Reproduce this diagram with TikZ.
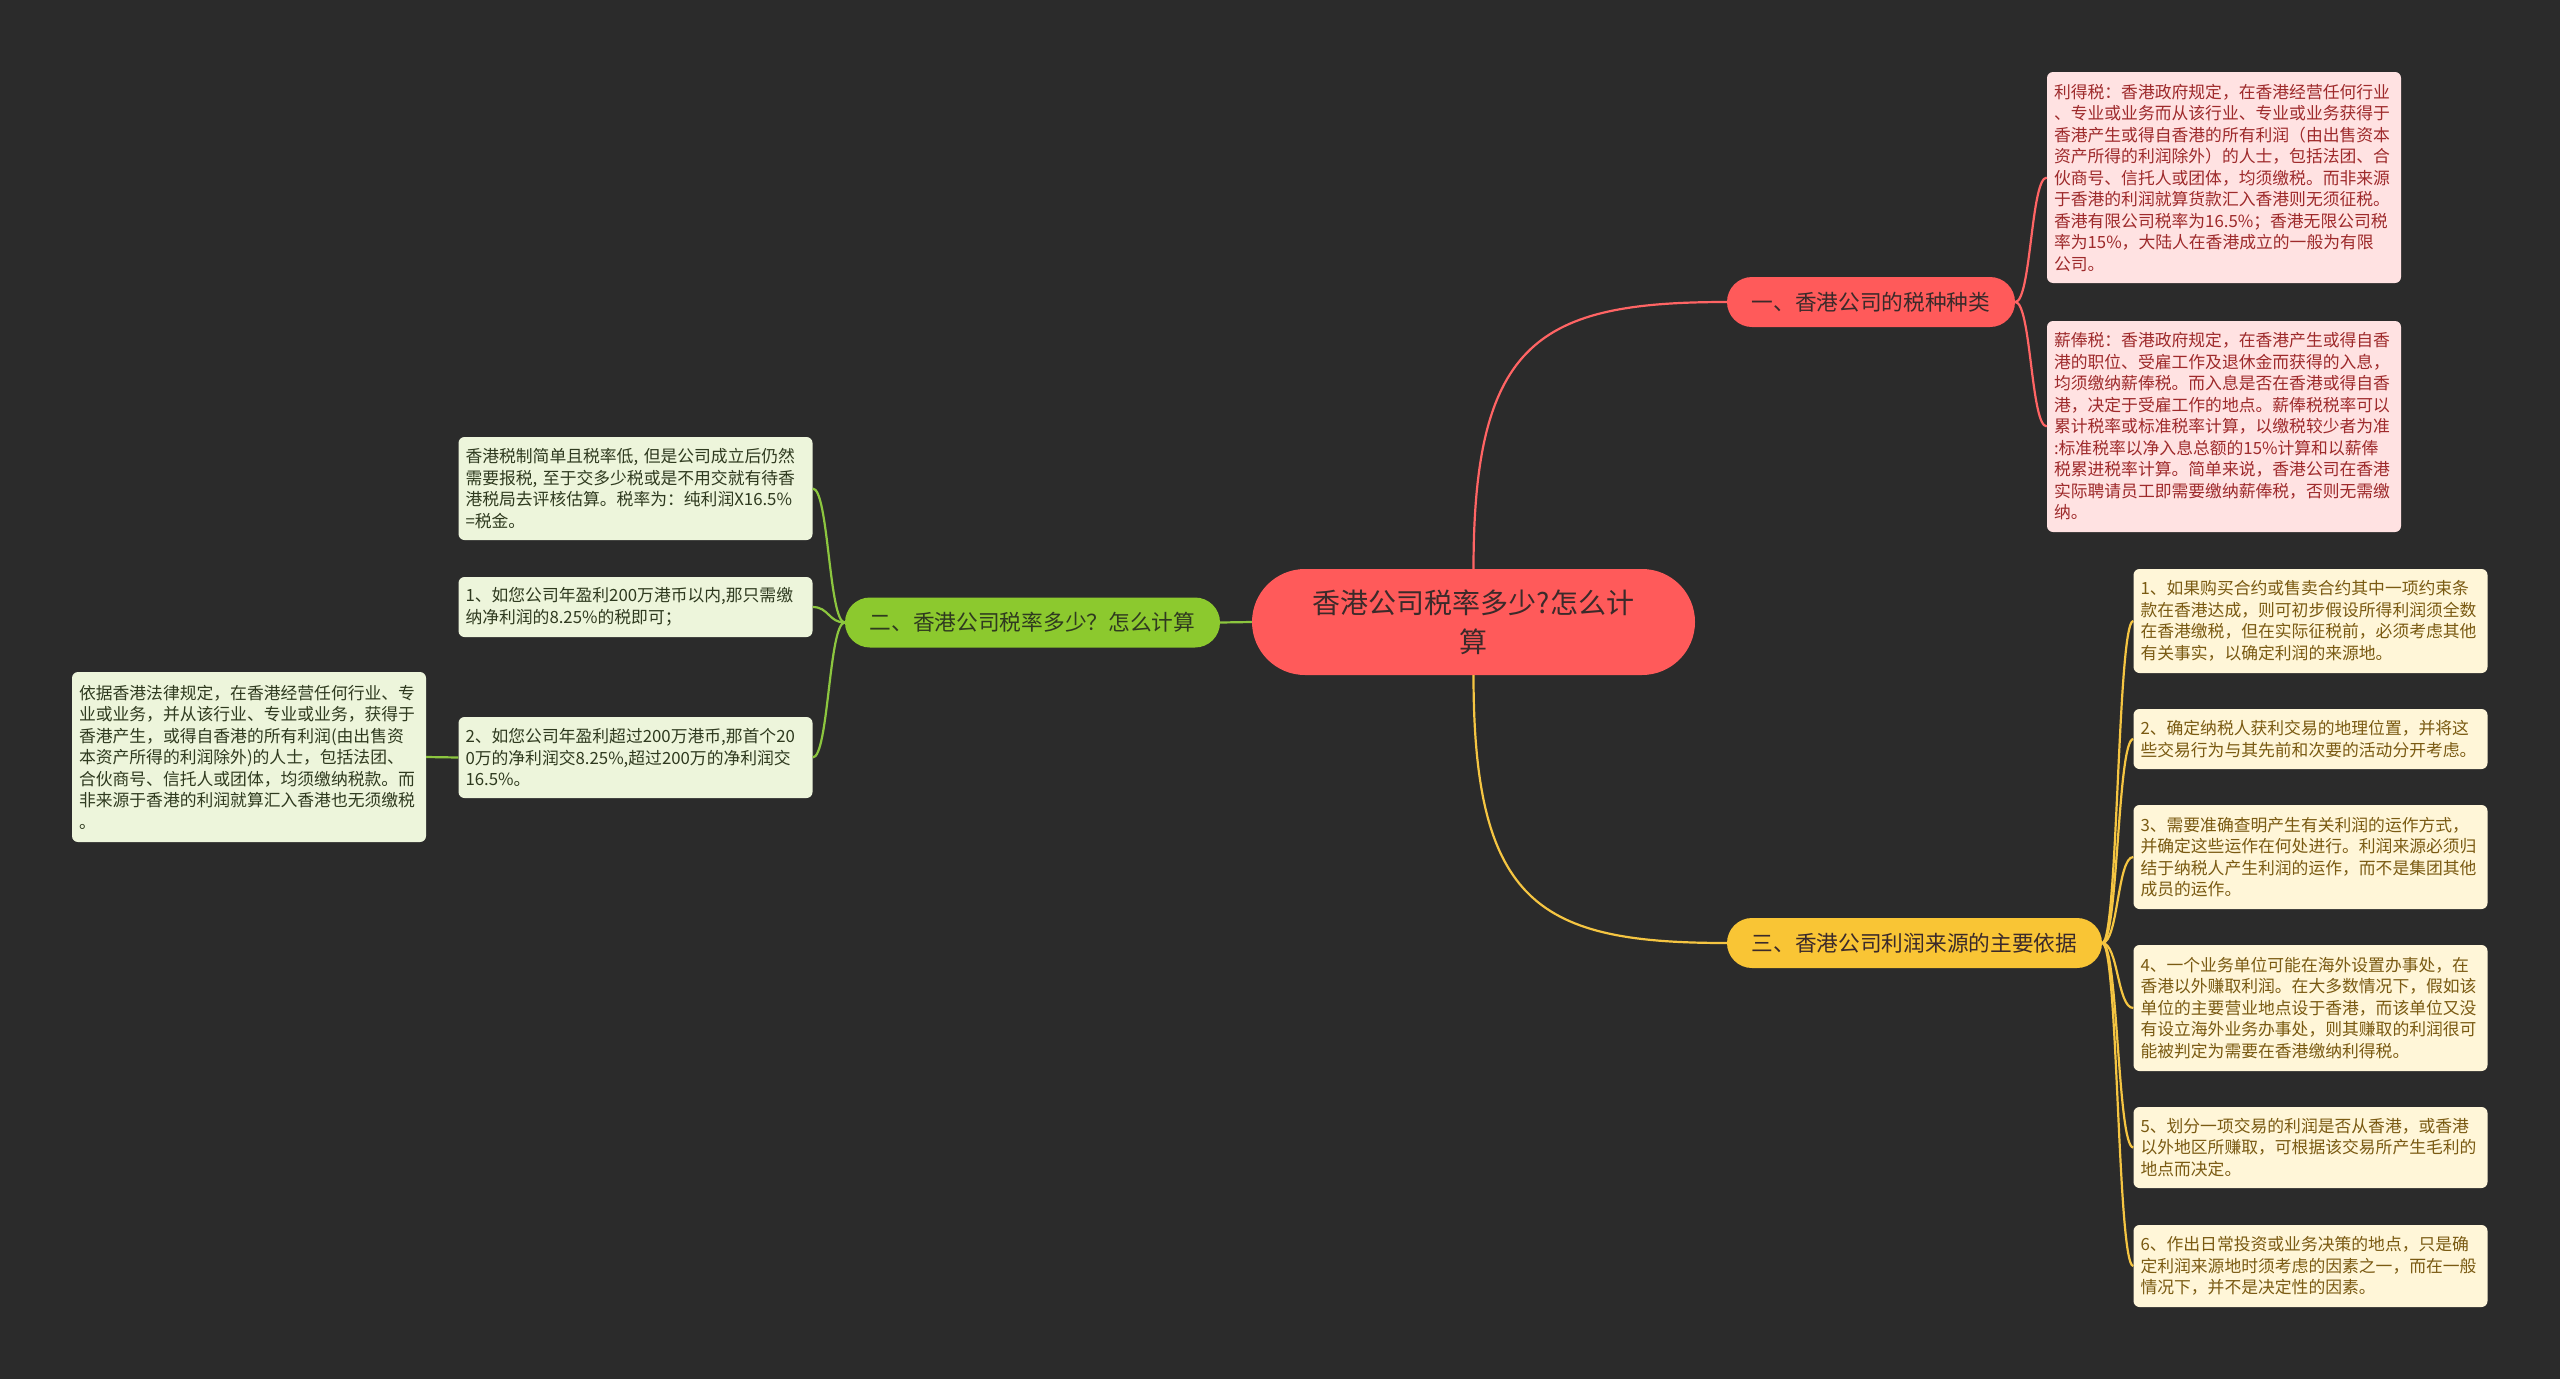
\documentclass[tikz,border=0pt]{standalone}
\usepackage{fontspec}
\setmainfont{Noto Sans CJK SC}
\definecolor{bgc}{HTML}{2B2B2B}
\definecolor{redmain}{HTML}{FF5A5A}
\definecolor{redline}{HTML}{FF6464}
\definecolor{redleaf}{HTML}{FFE2E2}
\definecolor{redtext}{HTML}{9E2A2B}
\definecolor{greenmain}{HTML}{8CC92E}
\definecolor{greenline}{HTML}{8CC63F}
\definecolor{greenleaf}{HTML}{EDF5DB}
\definecolor{greentext}{HTML}{2F3A1F}
\definecolor{yelmain}{HTML}{F9C535}
\definecolor{yelline}{HTML}{F5C542}
\definecolor{yelleaf}{HTML}{FFF6D8}
\definecolor{yeltext}{HTML}{7A5A12}
\definecolor{darktext}{HTML}{3B2A2A}
\begin{document}
\begin{tikzpicture}[x=1pt,y=-1pt,
  leafbase/.style={rounded corners=6pt, inner xsep=7pt, inner ysep=0pt, text width=340pt, align=left,
    font=\fontsize{16.8}{21.5}\selectfont},
  redbox/.style={leafbase, fill=redleaf, text=redtext},
  greenbox/.style={leafbase, fill=greenleaf, text=greentext},
  yelbox/.style={leafbase, fill=yelleaf, text=yeltext},
  branch/.style={rounded corners=25pt, inner sep=0pt, minimum height=50pt, align=center,
    font=\fontsize{21.7}{26}\selectfont, text=darktext},
  rcon/.style={draw=redline, line width=2.2pt},
  gcon/.style={draw=greenline, line width=2.2pt},
  ycon/.style={draw=yelline, line width=2.2pt}
]
\fill[bgc] (0,0) rectangle (2560,1379);
\useasboundingbox (0,0) rectangle (2560,1379);

% central
\node[fill=redmain, rounded corners=53pt, minimum width=443pt, minimum height=106pt, inner sep=0pt,
  align=center, text=darktext, font=\fontsize{28}{39}\selectfont] (c) at (1473.5,622) {香港公司税率多少?怎么计\\算};

% branches
\node[branch, fill=redmain, minimum width=288pt] (b1) at (1871,302) {一、香港公司的税种种类};
\node[branch, fill=greenmain, minimum width=375pt, text=greentext] (b2) at (1032.5,622.5) {二、香港公司税率多少？怎么计算};
\node[branch, fill=yelmain, minimum width=375pt] (b3) at (1914.5,943) {三、香港公司利润来源的主要依据};

% red leaves
\node[redbox, minimum height=211pt] (r1) at (2224,177.5) {利得税：香港政府规定，在香港经营任何行业\\、专业或业务而从该行业、专业或业务获得于\\香港产生或得自香港的所有利润（由出售资本\\资产所得的利润除外）的人士，包括法团、合\\伙商号、信托人或团体，均须缴税。而非来源\\于香港的利润就算货款汇入香港则无须征税。\\香港有限公司税率为16.5\%；香港无限公司税\\率为15\%，大陆人在香港成立的一般为有限\\公司。};
\node[redbox, minimum height=211pt] (r2) at (2224,426.5) {薪俸税：香港政府规定，在香港产生或得自香\\港的职位、受雇工作及退休金而获得的入息，\\均须缴纳薪俸税。而入息是否在香港或得自香\\港，决定于受雇工作的地点。薪俸税税率可以\\累计税率或标准税率计算，以缴税较少者为准\\:标准税率以净入息总额的15\%计算和以薪俸\\税累进税率计算。简单来说，香港公司在香港\\实际聘请员工即需要缴纳薪俸税，否则无需缴\\纳。};

% green leaves
\node[greenbox, minimum height=103pt] (g1) at (635.5,488.5) {香港税制简单且税率低, 但是公司成立后仍然\\需要报税, 至于交多少税或是不用交就有待香\\港税局去评核估算。税率为：纯利润X16.5\%\\=税金。};
\node[greenbox, minimum height=60pt] (g2) at (635.5,607) {1、如您公司年盈利200万港币以内,那只需缴\\纳净利润的8.25\%的税即可；};
\node[greenbox, minimum height=81pt] (g3) at (635.5,757.5) {2、如您公司年盈利超过200万港币,那首个20\\0万的净利润交8.25\%,超过200万的净利润交\\16.5\%。};
\node[greenbox, minimum height=170pt] (g4) at (249,757) {依据香港法律规定，在香港经营任何行业、专\\业或业务，并从该行业、专业或业务，获得于\\香港产生，或得自香港的所有利润(由出售资\\本资产所得的利润除外)的人士，包括法团、\\合伙商号、信托人或团体，均须缴纳税款。而\\非来源于香港的利润就算汇入香港也无须缴税\\。};

% yellow leaves
\node[yelbox, minimum height=104pt] (y1) at (2310.5,621) {1、如果购买合约或售卖合约其中一项约束条\\款在香港达成，则可初步假设所得利润须全数\\在香港缴税，但在实际征税前，必须考虑其他\\有关事实，以确定利润的来源地。};
\node[yelbox, minimum height=60pt] (y2) at (2310.5,739) {2、确定纳税人获利交易的地理位置，并将这\\些交易行为与其先前和次要的活动分开考虑。};
\node[yelbox, minimum height=104pt] (y3) at (2310.5,857) {3、需要准确查明产生有关利润的运作方式，\\并确定这些运作在何处进行。利润来源必须归\\结于纳税人产生利润的运作，而不是集团其他\\成员的运作。};
\node[yelbox, minimum height=126pt] (y4) at (2310.5,1008) {4、一个业务单位可能在海外设置办事处，在\\香港以外赚取利润。在大多数情况下，假如该\\单位的主要营业地点设于香港，而该单位又没\\有设立海外业务办事处，则其赚取的利润很可\\能被判定为需要在香港缴纳利得税。};
\node[yelbox, minimum height=81pt] (y5) at (2310.5,1147.5) {5、划分一项交易的利润是否从香港，或香港\\以外地区所赚取，可根据该交易所产生毛利的\\地点而决定。};
\node[yelbox, minimum height=82pt] (y6) at (2310.5,1266) {6、作出日常投资或业务决策的地点，只是确\\定利润来源地时须考虑的因素之一，而在一般\\情况下，并不是决定性的因素。};

% connectors
\begin{scope}[on background layer/.style={}]
\end{scope}
\path[rcon] (c.north) .. controls (c.north |- 0,340) and (1540,302) .. (b1.west);
\path[ycon] (c.south) .. controls (c.south |- 0,905) and (1540,943) .. (b3.west);
\path[gcon] (c.west) -- (b2.east);

\foreach \t in {r1,r2}{
  \path[rcon] (b1.east) .. controls ([xshift=16pt]b1.east) and ([xshift=-16pt]\t.west) .. (\t.west);
}
\foreach \t in {g1,g2,g3}{
  \path[gcon] (b2.west) .. controls ([xshift=-16pt]b2.west) and ([xshift=16pt]\t.east) .. (\t.east);
}
\path[gcon] (g3.west) -- (g4.east);
\foreach \t in {y1,y2,y3,y4,y5,y6}{
  \path[ycon] (b3.east) .. controls ([xshift=16pt]b3.east) and ([xshift=-16pt]\t.west) .. (\t.west);
}
\end{tikzpicture}
\end{document}
